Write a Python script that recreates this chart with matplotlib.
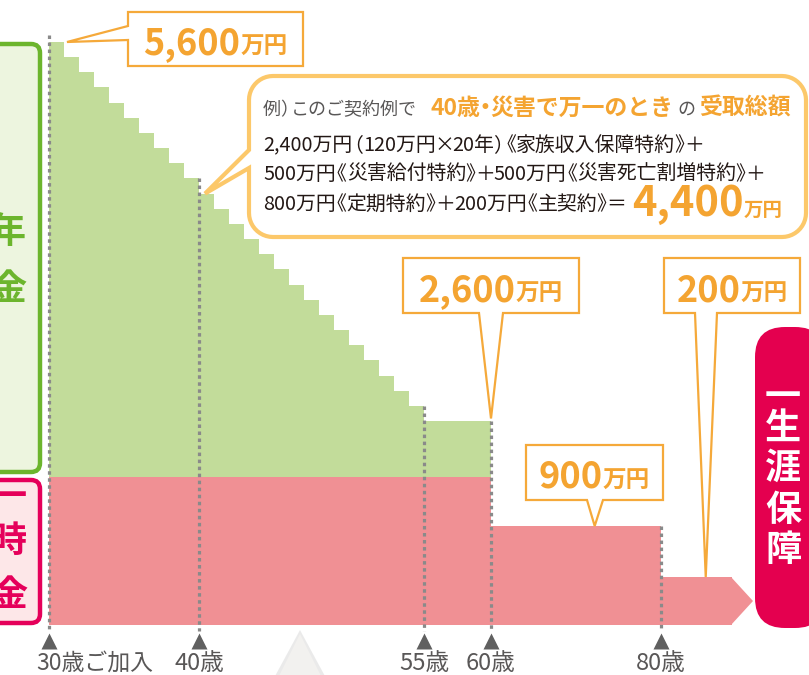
import matplotlib
matplotlib.use('Agg')
import matplotlib.pyplot as plt
import matplotlib.transforms as mtransforms
from matplotlib.patches import Polygon, FancyBboxPatch
import numpy as np

plt.rcParams['font.family'] = ['Noto Sans CJK JP', 'DejaVu Sans']

W, H = 809, 675

# family income benefit: one step down per year, flat (5 years guaranteed) from 55 to 60
step_edges = [30, 31, 32, 33, 34, 35, 36, 37, 38, 39, 40, 41, 42, 43, 44,
              45, 46, 47, 48, 49, 50, 51, 52, 53, 54, 55, 60]
step_totals = [5600, 5480, 5360, 5240, 5120, 5000, 4880, 4760, 4640, 4520,
               4400, 4280, 4160, 4040, 3920, 3800, 3680, 3560, 3440, 3320,
               3200, 3080, 2960, 2840, 2720, 2600]
lump_sum = 2000

# lump-sum part (pink): to 60, to 80, then whole life
lump_edges = [30, 60, 80, 90]
lump_values = [2000, 900, 200]

guide_ages = [30, 40, 55, 60, 80]
guide_tops = [5655, 4520, 2720, 2600, 900]
guide_labels = ['30歳ご加入', '40歳', '55歳', '60歳', '80歳']

callout_values = ['5,600', '2,600', '900', '200']
callout_tips = [(31.2, 5600), (60, 2620), (72.2, 900), (86.3, 200)]

GREEN = '#c2dc9a'
PINK = '#f09094'
ORANGE = '#f4a431'
ORANGE_EDGE = '#f5a93a'
BUBBLE_EDGE = '#fcc86a'
MAGENTA = '#e4004f'
LEAF = '#6cb52d'
GRAY = '#595757'
INK = '#231815'

# the illustration is not to scale: piecewise axes
xa = [0, 30, 55, 60, 80, 90, 95, 200]
xp = [-401, 49, 424, 491, 661, 732, 753, 1194]
ya = [-5000, 0, 200, 900, 2000, 2600, 5600, 20000]
yp = [-1150, 50, 98, 149, 198, 254, 633, 2452]


def fx(v):
    return np.interp(v, xa, xp)


def ix(p):
    return np.interp(p, xp, xa)


def fy(v):
    return np.interp(v, ya, yp)


def iy(p):
    return np.interp(p, yp, ya)


fig = plt.figure(figsize=(W / 100, H / 100), dpi=100)
ax = fig.add_axes([0, 0, 1, 1])
ax.set_xscale('function', functions=(fx, ix))
ax.set_yscale('function', functions=(fy, iy))
ax.set_xlim(ix(0), ix(W))
ax.set_ylim(iy(0), iy(H))
ax.axis('off')

# pixel coords, origin top-left
px = mtransforms.Affine2D().scale(1.0 / W, -1.0 / H).translate(0, 1) + fig.transFigure
xdata_ypx = mtransforms.blended_transform_factory(ax.transData, px)


def to_px(x, y):
    dx, dy = ax.transData.transform((x, y))
    return dx, H - dy


# chart fills
ax.stairs(lump_values, lump_edges, baseline=0, fill=True, color=PINK, lw=0, zorder=1)
ax.stairs(step_totals, step_edges, baseline=lump_sum, fill=True, color=GREEN, lw=0, zorder=1)
end_x, end_y = to_px(lump_edges[-1], lump_values[-1])
base_y = to_px(lump_edges[-1], 0)[1]
ax.add_patch(Polygon([(end_x - 1, end_y), (end_x + 21, (end_y + base_y) / 2), (end_x - 1, base_y)],
                     closed=True, transform=px, fc=PINK, ec='none', zorder=1))

# dotted guides, markers, age labels
for age, top, lab in zip(guide_ages, guide_tops, guide_labels):
    ax.plot([age, age], [top, -25], color='#8a8a8a', lw=2.3, ls=(0, (1.1, 1.1)), zorder=3)
    ax.plot([age], [641], marker='^', ms=11, color='#606060', mec='none',
            transform=xdata_ypx, zorder=3)
    if age == 30:
        ax.annotate(lab, xy=(age, 663), xycoords=xdata_ypx, xytext=(-13, 0),
                    textcoords='offset pixels', ha='left', va='center',
                    fontsize=16.5, color=GRAY)
    else:
        ax.text(age, 663, lab, transform=xdata_ypx, ha='center', va='center',
                fontsize=17, color=GRAY)

# decorative triangle at the bottom
ax.add_patch(Polygon([(300, 630), (274, 678), (326, 678)], closed=True, transform=px,
                     fc='#dddddd', ec='none', alpha=0.6, zorder=2))
ax.add_patch(Polygon([(300, 634), (278, 678), (322, 678)], closed=True, transform=px,
                     fc='#f2f1ef', ec='none', zorder=2))

# side labels
ax.add_patch(FancyBboxPatch((-30, 44), 70, 428, boxstyle='round,pad=0,rounding_size=9',
                            transform=px, fc='#edf5df', ec=LEAF, lw=3.2, zorder=2))
ax.add_patch(FancyBboxPatch((-30, 480), 70, 143, boxstyle='round,pad=0,rounding_size=9',
                            transform=px, fc='#fde7e8', ec='#e5005a', lw=3.2, zorder=2))
for ch, y in zip('年金', [233, 290]):
    ax.text(8, y, ch, transform=px, ha='center', va='center', fontsize=26,
            fontweight='bold', color=LEAF, zorder=4)
for ch, y in zip('一時金', [497, 541, 595]):
    ax.text(9, y, ch, transform=px, ha='center', va='center', fontsize=26,
            fontweight='bold', color='#e5005a', zorder=4)

ax.add_patch(FancyBboxPatch((755, 327), 70, 301, boxstyle='round,pad=0,rounding_size=30',
                            transform=px, fc=MAGENTA, ec='none', zorder=2))
for ch, y in zip('一生涯保障', [398, 428, 468, 510, 550]):
    ax.text(783, y, ch, transform=px, ha='center', va='center', fontsize=26,
            fontweight='bold', color='white', zorder=4)

renderer = fig.canvas.get_renderer()

# proportional punctuation: (shift, advance) in em
OPEN = {'《': (-0.45, 0.55), '（': (-0.45, 0.55)}
CLOSE = {'》': (-0.05, 0.55), '）': (-0.05, 0.55)}
MID = {'＋': (-0.08, 0.84), '＝': (-0.08, 0.84), '×': (-0.08, 0.84), '・': (-0.3, 0.4)}
TIGHT = {**OPEN, **CLOSE, **MID}


def run_text(x, y, runs, align='left'):
    # runs: (text, size, color, weight); text None -> gap of `size` px
    items = []
    for s, size, color, weight in runs:
        if s is None:
            items.append((None, 0, size))
            continue
        em = size * 100 / 72
        buf = ''
        for ch in s + '\0':
            if ch in TIGHT or ch == '\0':
                if buf:
                    t = ax.text(0, 0, buf, transform=px, fontsize=size, color=color,
                                fontweight=weight, ha='left', va='baseline', zorder=7)
                    items.append((t, 0, t.get_window_extent(renderer).width))
                    buf = ''
                if ch in TIGHT:
                    sh, adv = TIGHT[ch]
                    t = ax.text(0, 0, ch, transform=px, fontsize=size, color=color,
                                fontweight=weight, ha='left', va='baseline', zorder=7)
                    items.append((t, sh * em, adv * em))
            else:
                buf += ch
    if align == 'center':
        x -= sum(w for _, _, w in items) / 2
    for t, sh, w in items:
        if t is not None:
            t.set_position((x + sh, y))
        x += w


# value callouts
boxes = [(128, 12, 303, 66), (403, 258, 579, 313), (526, 445, 663, 500), (664, 258, 800, 313)]
bases = [(26, 40), (479, 503), (587, 603), (695, 717)]
for k, (val, tip, box, base) in enumerate(zip(callout_values, callout_tips, boxes, bases)):
    x0, y0, x1, y1 = box
    tx, ty = to_px(*tip)
    if k == 0:
        pts = [(x0, y0), (x1, y0), (x1, y1), (x0, y1), (x0, base[1]), (tx, ty), (x0, base[0])]
    else:
        pts = [(x0, y0), (x1, y0), (x1, y1), (base[1], y1), (tx, ty), (base[0], y1), (x0, y1)]
    ax.add_patch(Polygon(pts, closed=True, transform=px, fc='white', ec=ORANGE_EDGE,
                         lw=1.6, joinstyle='miter', zorder=6))
    run_text((x0 + x1) / 2, y1 - 12, [(val, 26, ORANGE, 'bold'), ('万円', 17, ORANGE, 'bold')],
             align='center')


# example bubble
def bubble_outline(x0, y0, x1, y1, r, nb0, nb1, tip):
    pts = []
    for cx, cy, a0 in [(x0 + r, y0 + r, np.pi), (x1 - r, y0 + r, 1.5 * np.pi),
                       (x1 - r, y1 - r, 0.0), (x0 + r, y1 - r, 0.5 * np.pi)]:
        for a in np.linspace(a0, a0 + 0.5 * np.pi, 12):
            pts.append((cx + r * np.cos(a), cy + r * np.sin(a)))
    pts += [(x0, nb1), tip, (x0, nb0)]
    return pts


bx, by = to_px(40.4, 4400)
ax.add_patch(Polygon(bubble_outline(249, 76, 806, 237, 24, 150, 168, (bx, by)), closed=True,
                     transform=px, fc='white', ec=BUBBLE_EDGE, lw=3, zorder=6))

run_text(263, 115, [('例）このご契約例で', 13, GRAY, 'normal'), (None, 14, None, None),
                    ('40歳・災害で万一のとき', 16.5, ORANGE, 'bold'), (None, 4, None, None),
                    ('の', 13, GRAY, 'normal'), (None, 4, None, None),
                    ('受取総額', 16.5, ORANGE, 'bold')])
run_text(263, 151, [('2,400万円（120万円×20年）《家族収入保障特約》＋', 14.3, INK, 'normal')])
run_text(263, 180, [('500万円《災害給付特約》＋500万円《災害死亡割増特約》＋', 14.3, INK, 'normal')])
run_text(263, 210, [('800万円《定期特約》＋200万円《主契約》＝', 14.3, INK, 'normal'),
                    (None, 3, None, None)])
run_text(632, 216, [('4,400', 30, ORANGE, 'bold'), ('万円', 14, ORANGE, 'bold')])

fig.savefig('out.png', dpi=100)
